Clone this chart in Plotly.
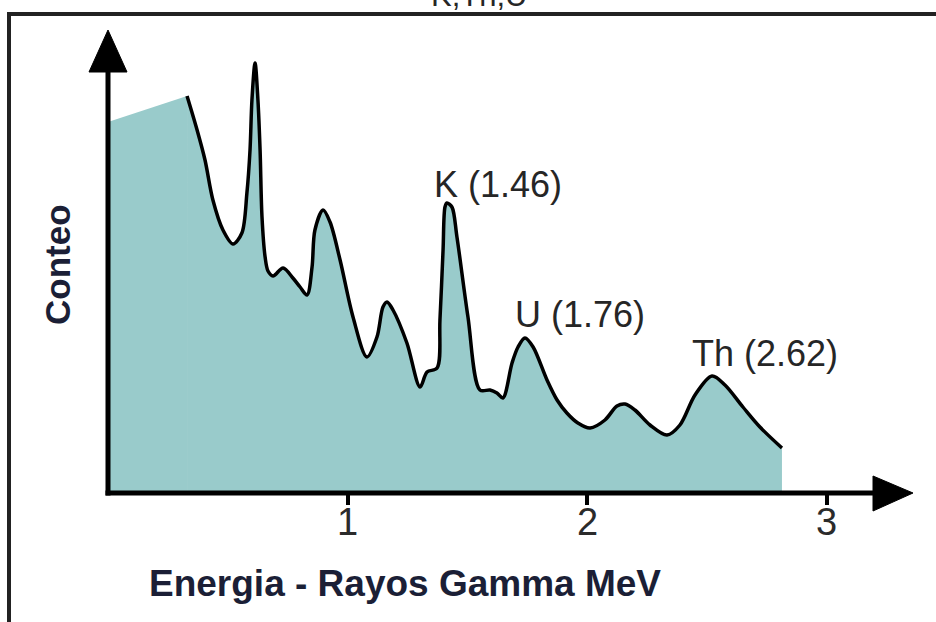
import plotly.graph_objects as go

# ---- data (energy in MeV, counts in arbitrary units) ----
energia_base = [0.0, 0.330]
conteo_base = [371, 397]

energia_mev = [0.330, 0.372, 0.405, 0.438, 0.480, 0.522, 0.559, 0.580, 0.593, 0.601,
               0.614, 0.626, 0.635, 0.643, 0.656, 0.668, 0.689, 0.731, 0.772, 0.802,
               0.831, 0.852, 0.864, 0.898, 0.927, 0.969, 1.023, 1.081, 1.123, 1.148,
               1.165, 1.190, 1.248, 1.303, 1.332, 1.374, 1.386, 1.399, 1.407, 1.415,
               1.436, 1.457, 1.503, 1.553, 1.595, 1.624, 1.649, 1.687, 1.712, 1.741,
               1.775, 1.833, 1.875, 1.916, 1.962, 2.013, 2.075, 2.125, 2.159, 2.200,
               2.263, 2.334, 2.388, 2.451, 2.522, 2.576, 2.651, 2.722, 2.814]
conteo = [397, 363, 333, 293, 263, 249, 260, 300, 343, 393,
          430, 393, 343, 276, 236, 222, 217, 225, 215, 206,
          198, 226, 263, 283, 271, 233, 176, 136, 156, 186,
          191, 183, 150, 106, 121, 125, 173, 243, 286, 290,
          286, 256, 176, 103, 103, 100, 95, 130, 146, 155,
          146, 113, 93, 80, 70, 65, 73, 87, 89, 83,
          68, 58, 68, 98, 117, 108, 86, 66, 45]

x_ticks = [1, 2, 3]
x_tick_labels = ["1", "2", "3"]

picos_texto = ["K (1.46)", "U (1.76)", "Th (2.62)"]

titulo = "K,Th,U"
titulo_x = "Energia - Rayos Gamma MeV"
titulo_y = "Conteo"

# ---- layout geometry (pixels) ----
L, T, W, H = 108, 25, 810, 468
X_PER_MEV = 239.5


def px(xp):
    return (xp - L) / W


def py(yp):
    return (T + H - yp) / H


FILL = "#99CBCB"
NAVY = "#1b1f36"
TXT = "#262626"

fig = go.Figure()
fig.add_trace(go.Scatter(x=energia_base, y=conteo_base, mode="lines",
                         line=dict(width=0, color=FILL), fill="tozeroy",
                         fillcolor=FILL, hoverinfo="skip", showlegend=False))
fig.add_trace(go.Scatter(x=energia_mev, y=conteo, mode="lines",
                         line=dict(width=3.5, color="black", shape="spline", smoothing=0.9),
                         fill="tozeroy", fillcolor=FILL, showlegend=False))

shapes = [
    # outer frame
    dict(type="rect", xref="paper", yref="paper", x0=px(9), x1=px(1100), y0=py(14), y1=py(800),
         line=dict(color="#222222", width=4), fillcolor="rgba(0,0,0,0)"),
    # y axis
    dict(type="line", xref="paper", yref="paper", x0=px(108), x1=px(108), y0=py(495.5), y1=py(62),
         line=dict(color="black", width=5)),
    # x axis
    dict(type="line", xref="paper", yref="paper", x0=px(105.5), x1=px(880), y0=py(493), y1=py(493),
         line=dict(color="black", width=5)),
    # arrow heads
    dict(type="path", xref="paper", yref="paper",
         path=f"M {px(108)},{py(30)} L {px(89)},{py(72)} L {px(127)},{py(72)} Z",
         fillcolor="black", line=dict(color="black", width=1)),
    dict(type="path", xref="paper", yref="paper",
         path=f"M {px(913)},{py(493)} L {px(873)},{py(476)} L {px(873)},{py(511)} Z",
         fillcolor="black", line=dict(color="black", width=1)),
]

label_font = dict(family="Liberation Sans, Arial, sans-serif", size=36, color=TXT)
annotations = [
    dict(text=picos_texto[0], xref="paper", yref="paper", x=px(498), y=py(184.5),
         xanchor="center", yanchor="middle", showarrow=False, font=label_font),
    dict(text=picos_texto[1], xref="paper", yref="paper", x=px(580), y=py(314.5),
         xanchor="center", yanchor="middle", showarrow=False, font=label_font),
    dict(text=picos_texto[2], xref="paper", yref="paper", x=px(765), y=py(353.5),
         xanchor="center", yanchor="middle", showarrow=False, font=label_font),
    dict(text=titulo, xref="paper", yref="paper", x=px(479), y=py(-5),
         xanchor="center", yanchor="middle", showarrow=False,
         font=dict(family="Liberation Sans, Arial, sans-serif", size=31, color=TXT)),
    dict(text=f"<b>{titulo_x}</b>", xref="paper", yref="paper", x=px(405), y=py(583.5),
         xanchor="center", yanchor="middle", showarrow=False,
         font=dict(family="Liberation Sans, Arial, sans-serif", size=37, color=NAVY)),
    dict(text=f"<b>{titulo_y}</b>", xref="paper", yref="paper", x=px(57), y=py(265),
         xanchor="center", yanchor="middle", showarrow=False, textangle=-90,
         font=dict(family="Liberation Sans, Arial, sans-serif", size=35, color=NAVY)),
]

# tick labels placed through the x axis scale
for v, t in zip(x_ticks, x_tick_labels):
    annotations.append(dict(text=t, xref="x", yref="paper", x=v, y=py(521.5),
                            xanchor="center", yanchor="middle", showarrow=False,
                            font=dict(family="Liberation Sans, Arial, sans-serif",
                                      size=38, color="#2b2b2b")))

fig.update_layout(
    width=936, height=622,
    margin=dict(l=L, r=936 - L - W, t=T, b=622 - T - H, pad=0),
    paper_bgcolor="white", plot_bgcolor="white",
    showlegend=False,
    shapes=shapes,
    annotations=annotations,
    xaxis=dict(range=[0, W / X_PER_MEV], tickvals=x_ticks, ticktext=x_tick_labels,
               showticklabels=False,
               ticks="outside", ticklen=11, tickwidth=4, tickcolor="black",
               showgrid=False, zeroline=False, showline=False, fixedrange=True),
    yaxis=dict(range=[0, H], showticklabels=False, ticks="", showgrid=False,
               zeroline=False, showline=False, fixedrange=True),
)

fig.write_html("out.html")
